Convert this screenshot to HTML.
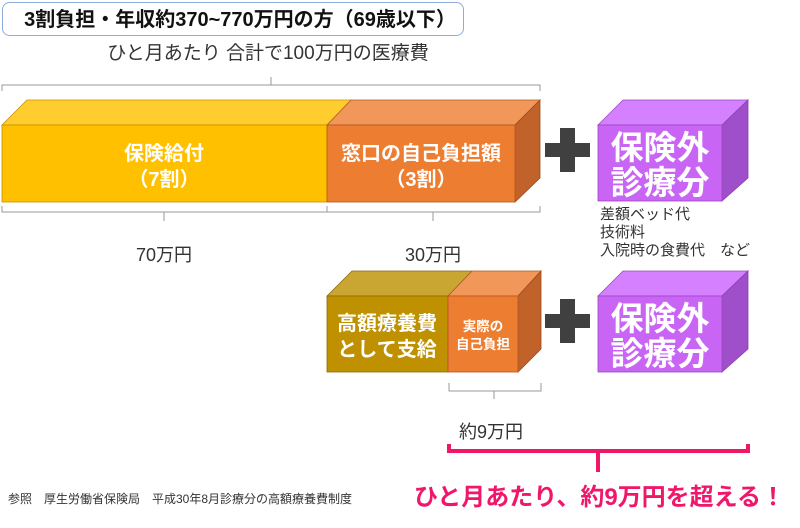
<!DOCTYPE html>
<html><head><meta charset="utf-8"><style>
html,body{margin:0;padding:0;background:#fff}
svg{display:block}
text{font-family:"Liberation Sans","Noto Sans CJK JP",sans-serif}
</style></head><body>
<svg width="800" height="528" viewBox="0 0 800 528" xmlns="http://www.w3.org/2000/svg">
<rect x="2.5" y="2.5" width="461" height="33" rx="7" fill="#fff" stroke="#8FAADC" stroke-width="1"/>
<text x="240" y="26" font-size="20" font-weight="bold" text-anchor="middle" fill="#111">3割負担・年収約370~770万円の方（69歳以下）</text>
<text x="268" y="59" font-size="19" text-anchor="middle" fill="#333">ひと月あたり 合計で100万円の医療費</text>
<path d="M2,91 V85 H540 V91 M271,85 V77" fill="none" stroke="#999" stroke-width="1"/>

<polygon points="2,125 27,100 351,100 327,125" fill="#FFCD2E" stroke="#C89000" stroke-width="0.8"/>
<polygon points="327,125 351,100 540,100 515,125" fill="#F1975A" stroke="#B5571E" stroke-width="0.8"/>
<polygon points="515,125 540,100 540,178 515,202" fill="#C0622A" stroke="#9A4A1C" stroke-width="0.8"/>
<rect x="2" y="125" width="325" height="77" fill="#FFC000" stroke="#C89000" stroke-width="0.8"/>
<rect x="327" y="125" width="188" height="77" fill="#ED7D31" stroke="#B5571E" stroke-width="0.8"/>
<text x="164" y="160" font-size="20" font-weight="bold" text-anchor="middle" fill="#fff">保険給付</text>
<text x="164" y="186" font-size="20" font-weight="bold" text-anchor="middle" fill="#fff">（7割）</text>
<text x="421" y="160" font-size="20" font-weight="bold" text-anchor="middle" fill="#fff">窓口の自己負担額</text>
<text x="421" y="186" font-size="20" font-weight="bold" text-anchor="middle" fill="#fff">（3割）</text>

<path d="M2,206 V212 H540 V206 M327,206 V212 M164,212 V221 M433,212 V221" fill="none" stroke="#999" stroke-width="1"/>
<text x="164" y="261" font-size="18" text-anchor="middle" fill="#333">70万円</text>
<text x="433" y="261" font-size="18" text-anchor="middle" fill="#333">30万円</text>

<path d="M560,128 H575 V143 H590 V157 H575 V172 H560 V157 H545 V143 H560 Z" fill="#404040"/>
<polygon points="598,125 623,100 748,100 722,125" fill="#D580FF" stroke="#9A48C0" stroke-width="0.8"/>
<polygon points="722,125 748,100 748,178 722,201" fill="#A04FCB" stroke="#8A40B0" stroke-width="0.8"/>
<rect x="598" y="125" width="124" height="76" fill="#C865F5" stroke="#9A48C0" stroke-width="0.8"/>
<text x="660" y="159" font-size="33" font-weight="bold" text-anchor="middle" fill="#fff">保険外</text>
<text x="660" y="194" font-size="33" font-weight="bold" text-anchor="middle" fill="#fff">診療分</text>
<text x="600" y="219" font-size="15" fill="#333">差額ベッド代</text>
<text x="600" y="237" font-size="15" fill="#333">技術料</text>
<text x="600" y="255" font-size="15" fill="#333">入院時の食費代　など</text>

<polygon points="327,296 352,271 472,271 448,296" fill="#C9A632" stroke="#8A6A10" stroke-width="0.8"/>
<polygon points="448,296 472,271 541,271 518,296" fill="#F1975A" stroke="#B5571E" stroke-width="0.8"/>
<polygon points="518,296 541,271 541,349 518,372" fill="#C0622A" stroke="#9A4A1C" stroke-width="0.8"/>
<rect x="327" y="296" width="121" height="76" fill="#BF9000" stroke="#8A6A10" stroke-width="0.8"/>
<rect x="448" y="296" width="70" height="76" fill="#ED7D31" stroke="#B5571E" stroke-width="0.8"/>
<text x="387" y="330" font-size="20" font-weight="bold" text-anchor="middle" fill="#fff">高額療養費</text>
<text x="387" y="356" font-size="20" font-weight="bold" text-anchor="middle" fill="#fff">として支給</text>
<text x="483" y="331" font-size="13.5" font-weight="bold" text-anchor="middle" fill="#fff">実際の</text>
<text x="483" y="349" font-size="13.5" font-weight="bold" text-anchor="middle" fill="#fff">自己負担</text>

<path d="M560,299 H575 V314 H590 V328 H575 V343 H560 V328 H545 V314 H560 Z" fill="#404040"/>
<polygon points="598,296 623,271 748,271 722,296" fill="#D580FF" stroke="#9A48C0" stroke-width="0.8"/>
<polygon points="722,296 748,271 748,349 722,372" fill="#A04FCB" stroke="#8A40B0" stroke-width="0.8"/>
<rect x="598" y="296" width="124" height="76" fill="#C865F5" stroke="#9A48C0" stroke-width="0.8"/>
<text x="660" y="330" font-size="33" font-weight="bold" text-anchor="middle" fill="#fff">保険外</text>
<text x="660" y="365" font-size="33" font-weight="bold" text-anchor="middle" fill="#fff">診療分</text>

<path d="M449,383 V391 H541 V383 M494,391 V399" fill="none" stroke="#999" stroke-width="1"/>
<text x="459" y="438" font-size="18" fill="#333">約9万円</text>

<path d="M449,444 V451 H748 V444 M598,451 V472" fill="none" stroke="#F0166A" stroke-width="4"/>
<text x="414" y="505" font-size="24" font-weight="bold" fill="#F0166A">ひと月あたり、約9万円を超える！</text>
<text x="8" y="503" font-size="12" fill="#333">参照　厚生労働省保険局　平成30年8月診療分の高額療養費制度</text>
</svg>
</body></html>
